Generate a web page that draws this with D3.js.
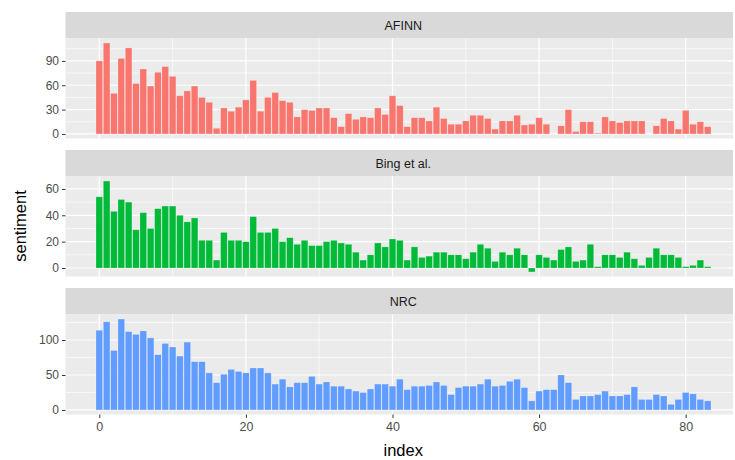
<meta charset="utf-8">

<!-- Load d3.js -->
<script src="https://d3js.org/d3.v7.min.js"></script>

<style>
  body { margin: 0; background: #fff; }
  text { font-family: "Liberation Sans", Arial, sans-serif; }
</style>

<!-- Create a div where the graph will take place -->
<div id="facetBars"></div>
<script>

// chart values
var index = d3.range(0, 84);

var afinn = [90,112,50,93,106,62,80,59,76,83,
             71,47,53,59,45,39,7,32,28,33,
             42,66,28,45,51,41,39,21,30,29,
             32,32,20,9,25,18,21,20,32,24,
             47,35,9,20,20,16,33,19,12,12,
             16,23,23,19,6,16,16,23,11,12,
             20,12,0,10,30,3,15,15,1,21,
             16,14,16,16,16,0,10,19,16,6,
             29,12,15,9];

var bing = [54,66,43,52,50,29,42,30,45,47,
            47,40,35,38,21,21,6,27,21,21,
            20,39,27,27,30,20,23,18,21,17,
            17,20,21,19,18,12,6,10,19,16,
            22,21,6,16,8,9,12,12,10,10,
            7,12,18,15,5,12,10,15,10,-3,
            10,8,6,14,16,5,6,18,1,10,
            10,8,12,7,2,8,15,10,10,8,
            1,2,6,1];

var nrc = [114,126,85,130,112,108,113,103,79,95,
           90,77,97,69,69,53,39,51,58,55,
           53,60,60,53,37,44,33,39,39,48,
           37,40,34,34,30,27,25,30,37,37,
           34,44,29,34,34,35,40,35,22,32,
           34,34,37,44,34,35,41,44,32,13,
           27,29,29,50,39,15,20,20,22,27,
           20,20,22,33,15,15,22,20,8,15,
           25,23,15,13];

var lexicons = ["AFINN", "Bing et al.", "NRC"];
var xTicks = [0, 20, 40, 60, 80];
var xMinor = [10, 30, 50, 70];
var afinnTicks = [0, 30, 60, 90];
var bingTicks = [0, 20, 40, 60];
var nrcTicks = [0, 50, 100];

var panels = [
  {name: lexicons[0], values: afinn, ticks: afinnTicks, color: "#F8766D"},
  {name: lexicons[1], values: bing, ticks: bingTicks, color: "#00BA38"},
  {name: lexicons[2], values: nrc, ticks: nrcTicks, color: "#619CFF"}
];

// layout
var W = 735, H = 460;
var left = 65.5, right = 733;
var top0 = 12, stripH = 26.5, panelH = 100, gap = 11.5;

var svg = d3.select("#facetBars")
  .append("svg")
    .attr("width", W)
    .attr("height", H);

// x scale shared by all panels (0 -> 99.3px, 80 -> 685.7px)
var x = d3.scaleLinear()
  .domain([0, 80])
  .range([99.3, 685.7]);

svg.append("defs").append("clipPath").attr("id", "pclip")
  .append("rect")
    .attr("x", left).attr("y", 0)
    .attr("width", right - left).attr("height", H);

panels.forEach(function(p, i) {
  var sTop = top0 + i * (stripH + panelH + gap);
  var pTop = sTop + stripH;
  var pBot = pTop + panelH;

  // y domain with ggplot style 5% expansion
  var lo = Math.min(0, d3.min(p.values)),
      hi = Math.max(0, d3.max(p.values)),
      pad = (hi - lo) * 0.05;
  var y = d3.scaleLinear()
    .domain([lo - pad, hi + pad])
    .range([pBot, pTop]);

  // strip
  svg.append("rect")
    .attr("x", left).attr("y", sTop)
    .attr("width", right - left).attr("height", stripH)
    .attr("fill", "#D9D9D9");
  svg.append("text")
    .attr("x", (left + right) / 2 + 4)
    .attr("y", sTop + stripH / 2 + 4.5)
    .attr("text-anchor", "middle")
    .style("font-size", "12.5px")
    .style("fill", "#1A1A1A")
    .text(p.name);

  // panel background
  svg.append("rect")
    .attr("x", left).attr("y", pTop)
    .attr("width", right - left).attr("height", panelH)
    .attr("fill", "#EBEBEB");

  var g = svg.append("g").attr("clip-path", "url(#pclip)");

  // minor grid
  var step = p.ticks[1] - p.ticks[0];
  var yMinor = p.ticks.map(function(t) { return t + step / 2; })
    .filter(function(v) { return y(v) > pTop; });

  g.selectAll(null).data(yMinor).enter().append("line")
    .attr("x1", left).attr("x2", right)
    .attr("y1", function(d) { return y(d); })
    .attr("y2", function(d) { return y(d); })
    .attr("stroke", "#fff").attr("stroke-width", 0.6);
  g.selectAll(null).data(xMinor).enter().append("line")
    .attr("x1", function(d) { return x(d); })
    .attr("x2", function(d) { return x(d); })
    .attr("y1", pTop).attr("y2", pBot)
    .attr("stroke", "#fff").attr("stroke-width", 0.6);

  // major grid
  g.selectAll(null).data(p.ticks).enter().append("line")
    .attr("x1", left).attr("x2", right)
    .attr("y1", function(d) { return y(d); })
    .attr("y2", function(d) { return y(d); })
    .attr("stroke", "#fff").attr("stroke-width", 1.2);
  g.selectAll(null).data(xTicks).enter().append("line")
    .attr("x1", function(d) { return x(d); })
    .attr("x2", function(d) { return x(d); })
    .attr("y1", pTop).attr("y2", pBot)
    .attr("stroke", "#fff").attr("stroke-width", 1.2);

  // bars
  var bw = x(0.45) - x(0);
  g.selectAll(null).data(index).enter().append("rect")
    .attr("x", function(d) { return x(d) - bw; })
    .attr("width", bw * 2)
    .attr("y", function(d) { return y(Math.max(0, p.values[d])); })
    .attr("height", function(d) { return Math.abs(y(p.values[d]) - y(0)); })
    .attr("fill", p.color)
    .attr("stroke", "rgba(255,255,255,0.35)")
    .attr("stroke-width", 0.6);

  // y axis
  var yAxis = svg.append("g")
    .attr("transform", "translate(" + left + ",0)")
    .call(d3.axisLeft(y).tickValues(p.ticks).tickSize(3.5).tickPadding(3));
  yAxis.select(".domain").remove();
  yAxis.selectAll("line").attr("stroke", "#333");
  yAxis.selectAll("text")
    .style("font-size", "12px")
    .style("fill", "#4D4D4D")
    .style("font-family", "Liberation Sans, Arial, sans-serif");

  // x axis on bottom panel only
  if (i === panels.length - 1) {
    var xAxis = svg.append("g")
      .attr("transform", "translate(0," + pBot + ")")
      .call(d3.axisBottom(x).tickValues(xTicks).tickSize(3.5).tickPadding(4));
    xAxis.select(".domain").remove();
    xAxis.selectAll("line").attr("stroke", "#333");
    xAxis.selectAll("text")
      .style("font-size", "12.5px")
      .style("fill", "#4D4D4D")
      .style("font-family", "Liberation Sans, Arial, sans-serif");

    // X axis label
    svg.append("text")
      .attr("x", (left + right) / 2 + 4)
      .attr("y", 456)
      .attr("text-anchor", "middle")
      .style("font-size", "16.5px")
      .style("fill", "#000")
      .text("index");
  }
});

// Y axis label
svg.append("text")
  .attr("transform", "translate(26,226) rotate(-90)")
  .attr("text-anchor", "middle")
  .style("font-size", "16.5px")
  .style("fill", "#000")
  .text("sentiment");

</script>
